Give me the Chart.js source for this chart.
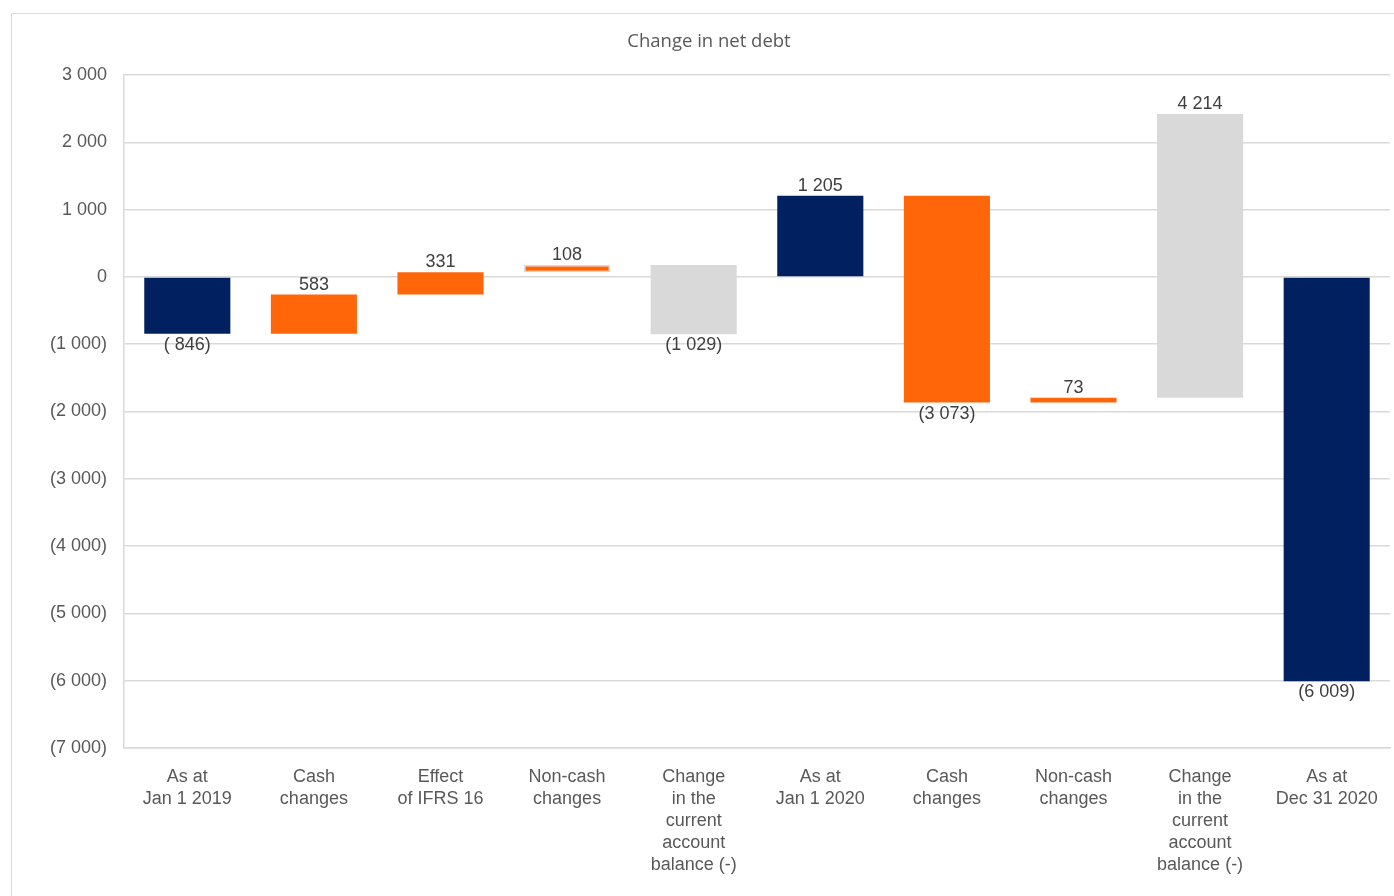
<!DOCTYPE html>
<html>
<head>
<meta charset="utf-8">
<script src="https://cdn.jsdelivr.net/npm/chart.js@4/dist/chart.umd.min.js"></script>
<style>
  html, body { margin: 0; padding: 0; background: #fff; overflow: hidden; }
  #frame {
    position: absolute; left: 11px; top: 13px;
    width: 1400px; height: 900px;
    border: 1px solid #d9d9d9;
  }
  #net-debt-chart { display: block; }
</style>
</head>
<body>
<div id="frame">
  <canvas id="net-debt-chart" width="1394" height="880"></canvas>
</div>
<script>
const categories = [
  ['As at', 'Jan 1 2019'],
  ['Cash', 'changes'],
  ['Effect', 'of IFRS 16'],
  ['Non-cash', 'changes'],
  ['Change', 'in the', 'current', 'account', 'balance (-)'],
  ['As at', 'Jan 1 2020'],
  ['Cash', 'changes'],
  ['Non-cash', 'changes'],
  ['Change', 'in the', 'current', 'account', 'balance (-)'],
  ['As at', 'Dec 31 2020']
];
// 'total' bars start at zero, 'change' bars start where the previous bar ended
const kinds = ['total', 'change', 'change', 'change', 'change', 'total', 'change', 'change', 'change', 'total'];
const changes = [-846, 583, 331, 108, -1029, 1205, -3073, 73, 4214, -6009];
const valueLabels = ['( 846)', '583', '331', '108', '(1 029)', '1 205', '(3 073)', '73', '4 214', '(6 009)'];
const yTicks = [3000, 2000, 1000, 0, -1000, -2000, -3000, -4000, -5000, -6000, -7000];

const NAVY = '#002060';
const ORANGE = '#ff660a';
const GREY = '#d9d9d9';

const colours = [NAVY, ORANGE, ORANGE, ORANGE, GREY, NAVY, ORANGE, ORANGE, GREY, NAVY];

// floating bars for the waterfall
let running = 0;
const ranges = changes.map((v, i) => {
  const start = kinds[i] === 'total' ? 0 : running;
  running = start + v;
  return [start, running];
});

function fmt(v) {
  const s = Math.abs(v).toString().replace(/\B(?=(\d{3})+(?!\d))/g, ' ');
  return v < 0 ? '(' + s + ')' : s;
}

const valueLabelPlugin = {
  id: 'valueLabels',
  afterDatasetsDraw(chart) {
    const ctx = chart.ctx;
    const meta = chart.getDatasetMeta(0);
    ctx.save();
    ctx.font = '18px "Liberation Sans", Arial, sans-serif';
    ctx.fillStyle = '#404040';
    ctx.textAlign = 'center';
    ctx.textBaseline = 'middle';
    meta.data.forEach((bar, i) => {
      const {x, y, base} = bar.getProps(['x', 'y', 'base'], true);
      const top = Math.min(y, base);
      const bottom = Math.max(y, base);
      const ty = changes[i] >= 0 ? top - 10 : bottom + 11;
      ctx.fillText(valueLabels[i], x, ty);
    });
    ctx.restore();
  }
};

new Chart(document.getElementById('net-debt-chart'), {
  type: 'bar',
  data: {
    labels: categories,
    datasets: [{
      data: ranges,
      backgroundColor: colours,
      borderColor: colours.map((c, i) => i === 3 ? GREY : c),
      borderWidth: colours.map((c, i) => i === 3 ? 1.5 : 0),
      borderSkipped: false,
      barPercentage: 0.68,
      categoryPercentage: 1
    }]
  },
  options: {
    responsive: false,
    animation: false,
    layout: { padding: 0 },
    plugins: {
      legend: { display: false },
      tooltip: { enabled: false },
      title: {
        display: true,
        text: 'Change in net debt',
        color: '#595959',
        font: { family: '"Open Sans", sans-serif', size: 18.5, weight: 'normal' },
        padding: { top: 17, bottom: 21.8 }
      }
    },
    scales: {
      x: {
        grid: { display: false, drawTicks: false },
        border: { display: true, color: GREY, width: 1.5 },
        ticks: {
          color: '#595959',
          font: { family: '"Liberation Sans", Arial, sans-serif', size: 18, lineHeight: 1.22 },
          padding: 18,
          maxRotation: 0,
          autoSkip: false
        },
        afterFit(scale) { scale.height = 146; }
      },
      y: {
        min: -7000,
        max: 3000,
        afterBuildTicks(scale) { scale.ticks = yTicks.map(v => ({value: v})); },
        grid: { color: GREY, lineWidth: 1.5, drawTicks: false },
        border: { display: true, color: GREY, width: 1.5 },
        ticks: {
          color: '#595959',
          font: { family: '"Liberation Sans", Arial, sans-serif', size: 18 },
          padding: 17,
          callback: v => fmt(v)
        },
        afterFit(scale) { scale.width = 112; }
      },
      // empty right-hand spacer so the title stays centred on the whole frame
      spacer: {
        type: 'linear',
        position: 'right',
        display: true,
        grid: { display: false, drawTicks: false },
        border: { display: false },
        ticks: { display: false },
        afterFit(scale) { scale.width = 16; }
      }
    }
  },
  plugins: [valueLabelPlugin]
});
</script>
</body>
</html>
